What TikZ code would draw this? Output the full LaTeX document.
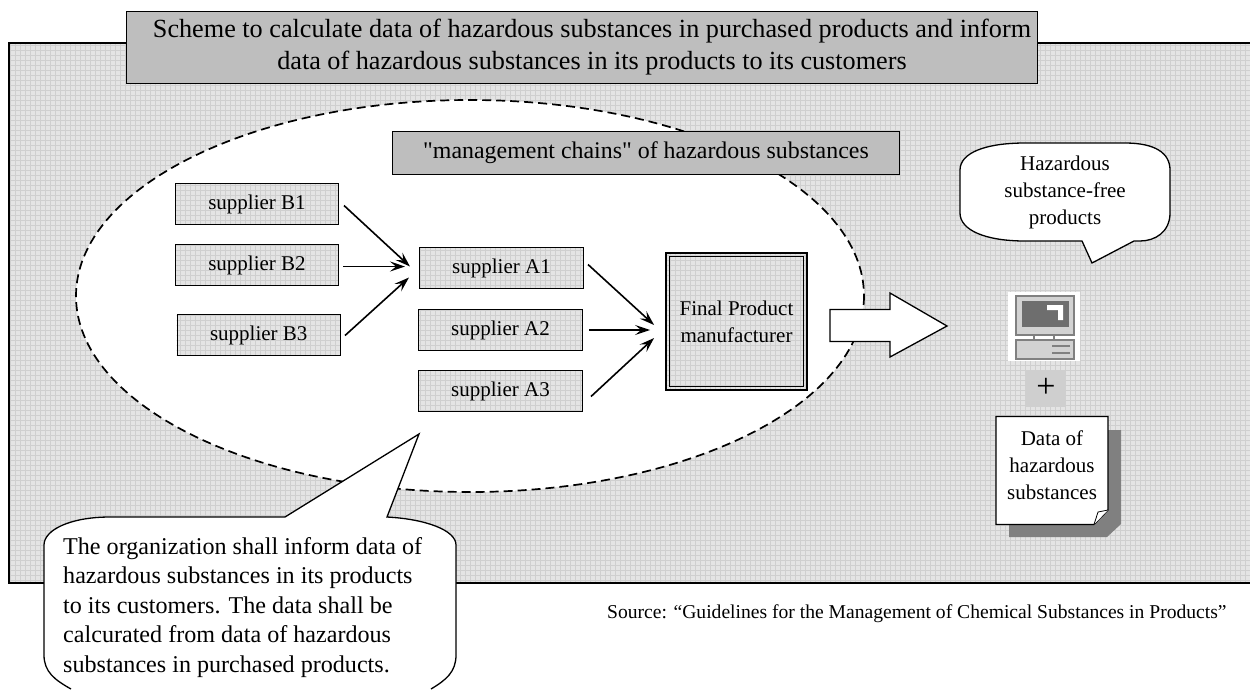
\documentclass[tikz,border=0pt]{standalone}
\usepackage{fontspec}
\setmainfont{Liberation Serif}
\newfontfamily\plainserif{Liberation Serif}
\usetikzlibrary{arrows.meta}
\definecolor{gridbg}{HTML}{E4E4E4}
\definecolor{gridln}{HTML}{CFCFCF}
\definecolor{titlegray}{HTML}{BEBEBE}
\definecolor{shadowgray}{HTML}{808080}
\definecolor{pcline}{HTML}{808080}
\definecolor{pcscreen}{HTML}{6E6E6E}
\definecolor{pcbody}{HTML}{D2D2D2}
\tikzset{
 x=1pt,y=-1pt,
 hatchbox/.style={draw=black,line width=1pt,inner sep=0pt,align=center,font=\fontsize{21}{25}\selectfont},
 feed/.style={draw=black,line width=1.6pt,-{Stealth[length=15pt,width=10pt,inset=6pt]}},
 bubble/.style={draw=black,line width=1.3pt,fill=white},
 lbl/.style={inner sep=0pt,align=center,font=\fontsize{21}{27}\selectfont},
 headbox/.style={draw=black,line width=1pt,fill=titlegray,inner sep=0pt,align=center,anchor=north west},
}
\newcommand{\gridfill}[4]{%
 \begin{scope}
 \clip (#1,#2) rectangle (#3,#4);
 \fill[gridbg] (#1,#2) rectangle (#3,#4);
 \foreach \gx in {0,5,...,1250} {\draw[gridln,line width=.45pt] (\gx,0) -- (\gx,689);}
 \foreach \gy in {0,5,...,685} {\draw[gridln,line width=.45pt] (0,\gy) -- (1250,\gy);}
 \end{scope}}
\newcommand{\supbox}[6]{% name, x1,y1,x2,y2,text
 \gridfill{#2}{#3}{#4}{#5}
 \node[hatchbox,minimum width={(#4-#2)*1pt},minimum height={(#5-#3)*1pt},anchor=north west] (#1) at (#2,#3) {#6};}
\begin{document}
\begin{tikzpicture}
\useasboundingbox (0,0) rectangle (1250,689);
\fill[white] (0,0) rectangle (1250,689);
% background panel
\gridfill{9}{43}{1250}{583}
\draw[black,line width=1.8pt] (1250,43) -- (9,43) -- (9,583) -- (1250,583);
% ellipse
\fill[white] (470,296) ellipse [x radius=394,y radius=196];
\draw[black,line width=1.7pt,dash pattern=on 9pt off 5pt] (470,296) ellipse [x radius=394,y radius=196];
% title
\node[headbox,minimum width=911pt,minimum height=72pt] (title) at (125.5,11) {};
\node[inner sep=0pt,align=center,font=\fontsize{26.2}{32}\selectfont] (titletext) at (592,47.5) {Scheme to calculate data of hazardous substances in purchased products and inform\\data of hazardous substances in its products to its customers};
\node[headbox,minimum width=507pt,minimum height=43pt,font=\plainserif\fontsize{23.9}{28}\selectfont] (mgmt) at (392,131) {"management chains" of hazardous substances};
% suppliers
\supbox{b1}{175}{183}{338}{224}{supplier B1}
\supbox{b2}{175}{244}{338}{285}{supplier B2}
\supbox{b3}{176.5}{314}{340}{355}{supplier B3}
\supbox{a1}{419}{247}{583}{288}{supplier A1}
\supbox{a2}{418}{309}{582}{350}{supplier A2}
\supbox{a3}{418}{370}{582}{411}{supplier A3}
% final
\gridfill{666}{253}{807}{390}
\node[draw=black,line width=1.8pt,inner sep=0pt,align=center,font=\fontsize{21}{27}\selectfont,minimum width=141pt,minimum height=137pt] (final) at (736.5,321.5) {Final Product\\manufacturer};
\draw[black,line width=1.4pt] ([shift={(4.5pt,4.5pt)}]final.south west) rectangle ([shift={(-4.5pt,-4.5pt)}]final.north east);
% connectors
\coordinate (ina) at ([shift={(-9pt,1.5pt)}]a1.west);
\coordinate (inf) at ([shift={(-11pt,-3.5pt)}]final.west);
\draw[feed] ([shift={(5pt,-1.5pt)}]b1.east) -- (ina);
\draw[feed] ([shift={(4pt,-1.5pt)}]b2.east) -- ([xshift=-5pt]ina);
\draw[feed] ([shift={(4pt,-.5pt)}]b3.east) -- ([shift={(-1pt,-11pt)}]ina);
\draw[feed] ([shift={(4pt,3.5pt)}]a1.east) -- (inf);
\draw[feed] ([xshift=6pt]a2.east) -- ([shift={(-4pt,-5pt)}]inf);
\draw[feed] ([shift={(8pt,-5.5pt)}]a3.east) -- ([yshift=-13pt]inf);
% block arrow
\draw[black,line width=1.3pt,fill=white] (830,309.5) -- (890,309.5) -- (890,293) -- (947,326) -- (890,357) -- (890,341.5) -- (830,341.5) -- cycle;
% bubble top right
\draw[bubble] (1025,143) .. controls (985,143) and (960,153) .. (960,170) -- (960,213) .. controls (960,230) and (985,241) .. (1025,241) -- (1082,241) -- (1092,263) -- (1134,241) -- (1140,241) .. controls (1155,241) and (1170,232) .. (1170,213) -- (1170,170) .. controls (1170,153) and (1155,143) .. (1125,143) -- cycle;
\node[lbl] (free) at (1065,192) {Hazardous\\substance-free\\products};
% computer icon
\fill[white] (1008,292) rectangle (1080,361);
\draw[pcline,fill=pcbody,line width=2pt] (1016,296) rectangle (1074,335);
\fill[pcscreen] (1022,301) rectangle (1069,327);
\fill[white] (1047,305) -- (1063,305) -- (1063,320) -- (1058,320) -- (1058,310) -- (1047,310) -- cycle;
\draw[pcline,line width=1.5pt] (1034,336) -- (1034,339) (1054,336) -- (1054,339);
\draw[pcline,fill=pcbody,line width=2pt] (1016,340) rectangle (1074,359);
\draw[pcline,line width=1.5pt] (1052,346) -- (1070,346) (1052,353) -- (1070,353);
% plus
\fill[gridln] (1026,370) rectangle (1066,407);
\node[inner sep=0pt,font=\fontsize{34}{34}\selectfont] (plus) at (1046,388) {+};
% data note
\fill[shadowgray] (1009,430) -- (1121,430) -- (1121,524) -- (1107,537) -- (1009,537) -- cycle;
\draw[black,line width=1.2pt,fill=white] (996,416.5) -- (1108,416.5) -- (1108,510) -- (1094,524.5) -- (996,524.5) -- cycle;
\draw[black,line width=.8pt,fill=white] (1108,510) -- (1098,512) -- (1094,524.5);
\node[lbl] (data) at (1052,465) {Data of\\hazardous\\substances};
% big bubble
\draw[bubble] (71,689) .. controls (55,680) and (44,672) .. (44,655) -- (44,545) .. controls (44,530) and (70,517) .. (110,517) -- (285,517) -- (419,434) -- (387,517) .. controls (425,519) and (456,530) .. (456,545) -- (456,655) .. controls (456,672) and (446,680) .. (431,689);
\node[inner sep=0pt,align=left,anchor=north west,font=\fontsize{24.1}{29.5}\selectfont] (note) at (63,537) {The organization shall inform data of\\hazardous substances in its products\\to its customers. The data shall be\\calcurated from data of hazardous\\substances in purchased products.};
% source
\node[inner sep=0pt,anchor=west,font=\fontsize{19.6}{22}\selectfont] (src) at (607,614) {Source: “Guidelines for the Management of Chemical Substances in Products”};
\end{tikzpicture}
\end{document}
